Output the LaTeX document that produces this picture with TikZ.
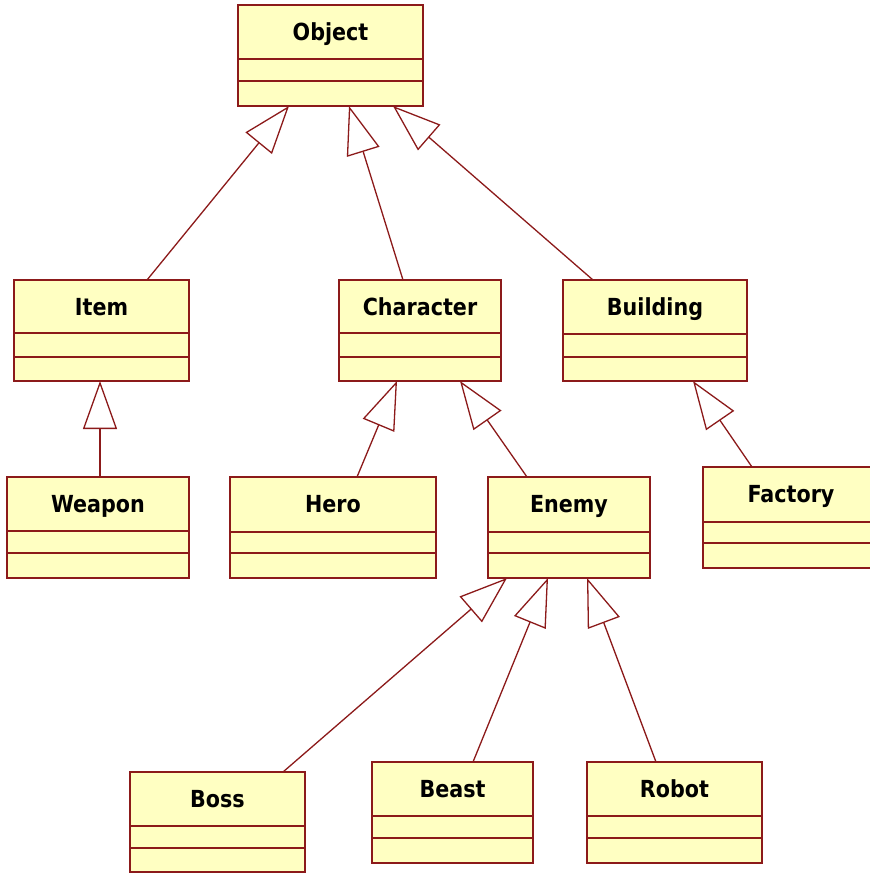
\documentclass[tikz,border=0pt]{standalone}
\usepackage{fontspec}
\setmainfont{DejaVu Sans}[FakeStretch=0.88]
\usetikzlibrary{arrows.meta,calc}
\definecolor{umlred}{RGB}{140,26,26}
\definecolor{umlfill}{RGB}{255,255,194}
\tikzset{
  cls/.style={draw=umlred, fill=umlfill, line width=1.8pt, rectangle, inner sep=0pt, outer sep=0pt, anchor=north west},
  clsline/.style={draw=umlred, line width=1.8pt},
  clstext/.style={font=\bfseries\fontsize{23.5}{26}\selectfont, anchor=base, inner sep=0pt, text=black},
  inh/.style={draw=umlred, line width=1.3pt, -{Triangle[open, length=48pt, width=34pt, line width=1.3pt]}}
}
% \umlbox{name}{x1}{y1}{x2}{y2}{l1}{l2}{text}
\newcommand{\umlbox}[8]{%
  \node[cls, minimum width={(#4-#2)*1pt}, minimum height={(#5-#3)*1pt}] (#1) at (#2,#3) {};
  \draw[clsline] (#2,#6) -- (#4,#6);
  \draw[clsline] (#2,#7) -- (#4,#7);
  \node[clstext] (#1-t) at ({(#2+#4)/2},{#3+35}) {#8};
}
\begin{document}
\begin{tikzpicture}[x=1pt,y=-1pt]
\clip (0,0) rectangle (870,873);
\fill[white] (0,0) rectangle (870,873);
\umlbox{obj}{238}{5}{423}{106}{59}{81}{Object}
\umlbox{item}{14}{280}{189}{381}{333}{357}{Item}
\umlbox{char}{339}{280}{501}{381}{333}{357}{Character}
\umlbox{bldg}{563}{280}{747}{381}{334}{357}{Building}
\umlbox{weap}{7}{477}{189}{578}{531}{553}{Weapon}
\umlbox{hero}{230}{477}{436}{578}{532}{553}{Hero}
\umlbox{enemy}{488}{477}{650}{578}{532}{553}{Enemy}
\umlbox{fact}{703}{467}{879}{568}{522}{543}{Factory}
\umlbox{boss}{130}{772}{305}{872}{826}{848}{Boss}
\umlbox{beast}{372}{762}{533}{863}{816}{838}{Beast}
\umlbox{robot}{587}{762}{762}{863}{816}{838}{Robot}
% generalizations
\draw[inh] ([xshift=133pt]item.north west) -- ([xshift=51pt]obj.south west);
\draw[inh] ([xshift=64pt]char.north west) -- ([xshift=111pt]obj.south west);
\draw[inh] ([xshift=30pt]bldg.north west) -- ([xshift=155pt]obj.south west);
\draw[inh] ([xshift=93pt]weap.north west) -- ([xshift=86pt]item.south west);
\draw[inh] ([xshift=127pt]hero.north west) -- ([xshift=58pt]char.south west);
\draw[inh] ([xshift=39pt]enemy.north west) -- ([xshift=121pt]char.south west);
\draw[inh] ([xshift=49pt]fact.north west) -- ([xshift=130pt]bldg.south west);
\draw[inh] ([xshift=153pt]boss.north west) -- ([xshift=19pt]enemy.south west);
\draw[inh] ([xshift=101pt]beast.north west) -- ([xshift=60pt]enemy.south west);
\draw[inh] ([xshift=69pt]robot.north west) -- ([xshift=99pt]enemy.south west);
\end{tikzpicture}
\end{document}
